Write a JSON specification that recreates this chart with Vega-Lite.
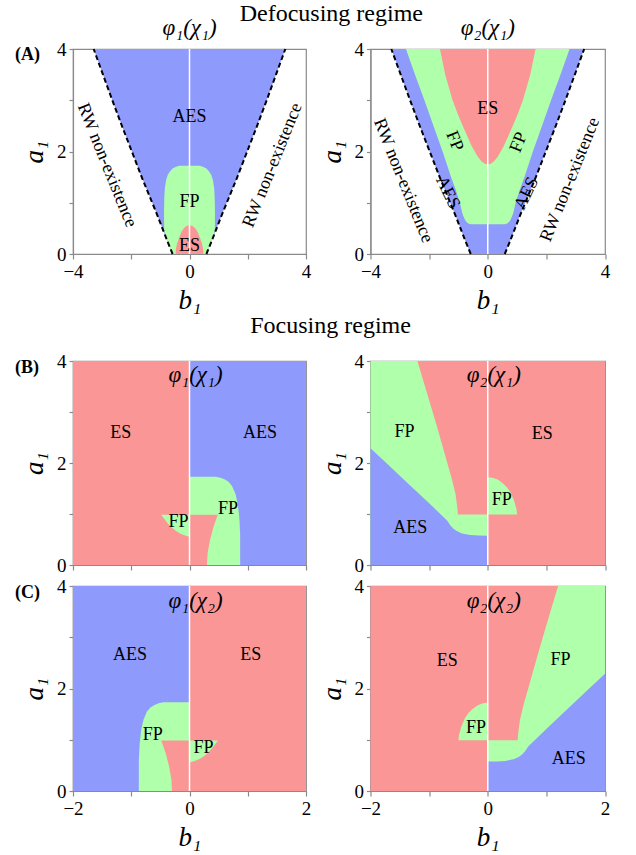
{
"$schema": "https://vega.github.io/schema/vega-lite/v6.json",
"background": "white",
"padding": {"left": 14, "top": 1, "right": 4, "bottom": 4},
"config": {
 "font": "Liberation Serif",
 "view": {"stroke": "#8a8a8a", "strokeWidth": 1.2},
 "axis": {"grid": false, "domainColor": "#8a8a8a", "domainWidth": 1.2, "tickColor": "#8a8a8a", "tickWidth": 1.2, "labelFont": "Liberation Serif", "labelFontSize": 19, "labelColor": "#000", "labelFlush": false, "labelOverlap": false, "titleFont": "Liberation Serif", "titleFontSize": 27, "titleFontStyle": "italic", "titleFontWeight": "normal", "titleColor": "#000"},
 "axisX": {"tickSize": 5, "labelPadding": 3, "titlePadding": 6},
 "axisY": {"tickSize": 4, "labelPadding": 3, "titlePadding": 8},
 "title": {"font": "Liberation Serif", "fontWeight": "normal", "color": "#000"},
 "text": {"font": "Liberation Serif", "fontSize": 18, "color": "#000"}
},
"datasets": {
 "regions": [
  {"p":"A1","s":"A1b","z":0,"r":"AES","a":0,"lo":-0.58,"hi":0.58},
  {"p":"A1","s":"A1b","z":0,"r":"AES","a":0.25,"lo":-0.76,"hi":0.76},
  {"p":"A1","s":"A1b","z":0,"r":"AES","a":0.5,"lo":-0.93,"hi":0.93},
  {"p":"A1","s":"A1b","z":0,"r":"AES","a":0.75,"lo":-1.1,"hi":1.1},
  {"p":"A1","s":"A1b","z":0,"r":"AES","a":1,"lo":-1.28,"hi":1.28},
  {"p":"A1","s":"A1b","z":0,"r":"AES","a":1.5,"lo":-1.64,"hi":1.64},
  {"p":"A1","s":"A1b","z":0,"r":"AES","a":2,"lo":-1.98,"hi":1.98},
  {"p":"A1","s":"A1b","z":0,"r":"AES","a":2.5,"lo":-2.32,"hi":2.32},
  {"p":"A1","s":"A1b","z":0,"r":"AES","a":3,"lo":-2.65,"hi":2.65},
  {"p":"A1","s":"A1b","z":0,"r":"AES","a":3.5,"lo":-2.97,"hi":2.97},
  {"p":"A1","s":"A1b","z":0,"r":"AES","a":4,"lo":-3.29,"hi":3.29},
  {"p":"A1","s":"A1g","z":1,"r":"FP","a":0,"lo":-0.58,"hi":0.58},
  {"p":"A1","s":"A1g","z":1,"r":"FP","a":0.25,"lo":-0.76,"hi":0.76},
  {"p":"A1","s":"A1g","z":1,"r":"FP","a":0.45,"lo":-0.87,"hi":0.87},
  {"p":"A1","s":"A1g","z":1,"r":"FP","a":0.8,"lo":-0.875,"hi":0.875},
  {"p":"A1","s":"A1g","z":1,"r":"FP","a":1.1,"lo":-0.865,"hi":0.865},
  {"p":"A1","s":"A1g","z":1,"r":"FP","a":1.3,"lo":-0.845,"hi":0.845},
  {"p":"A1","s":"A1g","z":1,"r":"FP","a":1.45,"lo":-0.8,"hi":0.8},
  {"p":"A1","s":"A1g","z":1,"r":"FP","a":1.55,"lo":-0.74,"hi":0.74},
  {"p":"A1","s":"A1g","z":1,"r":"FP","a":1.62,"lo":-0.66,"hi":0.66},
  {"p":"A1","s":"A1g","z":1,"r":"FP","a":1.67,"lo":-0.58,"hi":0.58},
  {"p":"A1","s":"A1g","z":1,"r":"FP","a":1.7,"lo":-0.48,"hi":0.48},
  {"p":"A1","s":"A1g","z":1,"r":"FP","a":1.72,"lo":-0.36,"hi":0.36},
  {"p":"A1","s":"A1r","z":2,"r":"ES","a":0,"lo":-0.48,"hi":0.48},
  {"p":"A1","s":"A1r","z":2,"r":"ES","a":0.1,"lo":-0.465,"hi":0.465},
  {"p":"A1","s":"A1r","z":2,"r":"ES","a":0.2,"lo":-0.43,"hi":0.43},
  {"p":"A1","s":"A1r","z":2,"r":"ES","a":0.3,"lo":-0.37,"hi":0.37},
  {"p":"A1","s":"A1r","z":2,"r":"ES","a":0.4,"lo":-0.3,"hi":0.3},
  {"p":"A1","s":"A1r","z":2,"r":"ES","a":0.46,"lo":-0.25,"hi":0.25},
  {"p":"A1","s":"A1r","z":2,"r":"ES","a":0.5,"lo":-0.2,"hi":0.2},
  {"p":"A1","s":"A1r","z":2,"r":"ES","a":0.53,"lo":-0.14,"hi":0.14},
  {"p":"A1","s":"A1r","z":2,"r":"ES","a":0.55,"lo":-0.08,"hi":0.08},
  {"p":"A1","s":"A1r","z":2,"r":"ES","a":0.56,"lo":-0.02,"hi":0.02},
  {"p":"A2","s":"A2b","z":0,"r":"AES","a":0,"lo":-0.58,"hi":0.58},
  {"p":"A2","s":"A2b","z":0,"r":"AES","a":0.25,"lo":-0.76,"hi":0.76},
  {"p":"A2","s":"A2b","z":0,"r":"AES","a":0.5,"lo":-0.93,"hi":0.93},
  {"p":"A2","s":"A2b","z":0,"r":"AES","a":0.75,"lo":-1.1,"hi":1.1},
  {"p":"A2","s":"A2b","z":0,"r":"AES","a":1,"lo":-1.28,"hi":1.28},
  {"p":"A2","s":"A2b","z":0,"r":"AES","a":1.5,"lo":-1.64,"hi":1.64},
  {"p":"A2","s":"A2b","z":0,"r":"AES","a":2,"lo":-1.98,"hi":1.98},
  {"p":"A2","s":"A2b","z":0,"r":"AES","a":2.5,"lo":-2.32,"hi":2.32},
  {"p":"A2","s":"A2b","z":0,"r":"AES","a":3,"lo":-2.65,"hi":2.65},
  {"p":"A2","s":"A2b","z":0,"r":"AES","a":3.5,"lo":-2.97,"hi":2.97},
  {"p":"A2","s":"A2b","z":0,"r":"AES","a":4,"lo":-3.29,"hi":3.29},
  {"p":"A2","s":"A2g","z":1,"r":"FP","a":0.58,"lo":-0.58,"hi":0.58},
  {"p":"A2","s":"A2g","z":1,"r":"FP","a":0.6,"lo":-0.68,"hi":0.68},
  {"p":"A2","s":"A2g","z":1,"r":"FP","a":0.65,"lo":-0.76,"hi":0.76},
  {"p":"A2","s":"A2g","z":1,"r":"FP","a":0.72,"lo":-0.82,"hi":0.82},
  {"p":"A2","s":"A2g","z":1,"r":"FP","a":0.8,"lo":-0.87,"hi":0.87},
  {"p":"A2","s":"A2g","z":1,"r":"FP","a":0.9,"lo":-0.91,"hi":0.91},
  {"p":"A2","s":"A2g","z":1,"r":"FP","a":1,"lo":-0.95,"hi":0.95},
  {"p":"A2","s":"A2g","z":1,"r":"FP","a":1.25,"lo":-1.09,"hi":1.09},
  {"p":"A2","s":"A2g","z":1,"r":"FP","a":1.5,"lo":-1.25,"hi":1.25},
  {"p":"A2","s":"A2g","z":1,"r":"FP","a":2,"lo":-1.54,"hi":1.54},
  {"p":"A2","s":"A2g","z":1,"r":"FP","a":2.5,"lo":-1.85,"hi":1.85},
  {"p":"A2","s":"A2g","z":1,"r":"FP","a":3,"lo":-2.16,"hi":2.16},
  {"p":"A2","s":"A2g","z":1,"r":"FP","a":3.5,"lo":-2.48,"hi":2.48},
  {"p":"A2","s":"A2g","z":1,"r":"FP","a":4,"lo":-2.79,"hi":2.79},
  {"p":"A2","s":"A2r","z":2,"r":"ES","a":1.745,"lo":-0.02,"hi":0.02},
  {"p":"A2","s":"A2r","z":2,"r":"ES","a":1.76,"lo":-0.1,"hi":0.1},
  {"p":"A2","s":"A2r","z":2,"r":"ES","a":1.8,"lo":-0.2,"hi":0.2},
  {"p":"A2","s":"A2r","z":2,"r":"ES","a":1.9,"lo":-0.34,"hi":0.34},
  {"p":"A2","s":"A2r","z":2,"r":"ES","a":2.1,"lo":-0.54,"hi":0.54},
  {"p":"A2","s":"A2r","z":2,"r":"ES","a":2.43,"lo":-0.8,"hi":0.8},
  {"p":"A2","s":"A2r","z":2,"r":"ES","a":2.7,"lo":-1.0,"hi":1.0},
  {"p":"A2","s":"A2r","z":2,"r":"ES","a":3,"lo":-1.2,"hi":1.2},
  {"p":"A2","s":"A2r","z":2,"r":"ES","a":3.5,"lo":-1.45,"hi":1.45},
  {"p":"A2","s":"A2r","z":2,"r":"ES","a":4,"lo":-1.63,"hi":1.63},

  {"p":"B1","s":"B1r0","z":0,"r":"ES","a":0,"lo":-2,"hi":0},
  {"p":"B1","s":"B1r0","z":0,"r":"ES","a":4,"lo":-2,"hi":0},
  {"p":"B1","s":"B1b0","z":0,"r":"AES","a":0,"lo":0,"hi":2},
  {"p":"B1","s":"B1b0","z":0,"r":"AES","a":4,"lo":0,"hi":2},
  {"p":"B1","s":"B1g1","z":1,"r":"FP","a":0,"lo":0,"hi":0.87},
  {"p":"B1","s":"B1g1","z":1,"r":"FP","a":0.6,"lo":0,"hi":0.87},
  {"p":"B1","s":"B1g1","z":1,"r":"FP","a":0.93,"lo":0,"hi":0.855},
  {"p":"B1","s":"B1g1","z":1,"r":"FP","a":1.19,"lo":0,"hi":0.83},
  {"p":"B1","s":"B1g1","z":1,"r":"FP","a":1.39,"lo":0,"hi":0.79},
  {"p":"B1","s":"B1g1","z":1,"r":"FP","a":1.55,"lo":0,"hi":0.73},
  {"p":"B1","s":"B1g1","z":1,"r":"FP","a":1.63,"lo":0,"hi":0.67},
  {"p":"B1","s":"B1g1","z":1,"r":"FP","a":1.68,"lo":0,"hi":0.6},
  {"p":"B1","s":"B1g1","z":1,"r":"FP","a":1.71,"lo":0,"hi":0.53},
  {"p":"B1","s":"B1g1","z":1,"r":"FP","a":1.73,"lo":0,"hi":0.45},
  {"p":"B1","s":"B1g2","z":1,"r":"FP","a":0.56,"lo":-0.01,"hi":0},
  {"p":"B1","s":"B1g2","z":1,"r":"FP","a":0.57,"lo":-0.05,"hi":0},
  {"p":"B1","s":"B1g2","z":1,"r":"FP","a":0.59,"lo":-0.1,"hi":0},
  {"p":"B1","s":"B1g2","z":1,"r":"FP","a":0.62,"lo":-0.16,"hi":0},
  {"p":"B1","s":"B1g2","z":1,"r":"FP","a":0.65,"lo":-0.21,"hi":0},
  {"p":"B1","s":"B1g2","z":1,"r":"FP","a":0.7,"lo":-0.27,"hi":0},
  {"p":"B1","s":"B1g2","z":1,"r":"FP","a":0.76,"lo":-0.33,"hi":0},
  {"p":"B1","s":"B1g2","z":1,"r":"FP","a":0.84,"lo":-0.39,"hi":0},
  {"p":"B1","s":"B1g2","z":1,"r":"FP","a":0.9,"lo":-0.43,"hi":0},
  {"p":"B1","s":"B1g2","z":1,"r":"FP","a":0.985,"lo":-0.49,"hi":0},
  {"p":"B1","s":"B1r2","z":2,"r":"ES","a":0,"lo":0,"hi":0.3},
  {"p":"B1","s":"B1r2","z":2,"r":"ES","a":0.22,"lo":0,"hi":0.31},
  {"p":"B1","s":"B1r2","z":2,"r":"ES","a":0.48,"lo":0,"hi":0.35},
  {"p":"B1","s":"B1r2","z":2,"r":"ES","a":0.74,"lo":0,"hi":0.41},
  {"p":"B1","s":"B1r2","z":2,"r":"ES","a":0.985,"lo":0,"hi":0.485},

  {"p":"C1","s":"C1b0","z":0,"r":"AES","a":0,"lo":-2,"hi":0},
  {"p":"C1","s":"C1b0","z":0,"r":"AES","a":4,"lo":-2,"hi":0},
  {"p":"C1","s":"C1r0","z":0,"r":"ES","a":0,"lo":0,"hi":2},
  {"p":"C1","s":"C1r0","z":0,"r":"ES","a":4,"lo":0,"hi":2},
  {"p":"C1","s":"C1g1","z":1,"r":"FP","a":0,"lo":-0.87,"hi":0},
  {"p":"C1","s":"C1g1","z":1,"r":"FP","a":0.6,"lo":-0.87,"hi":0},
  {"p":"C1","s":"C1g1","z":1,"r":"FP","a":0.93,"lo":-0.855,"hi":0},
  {"p":"C1","s":"C1g1","z":1,"r":"FP","a":1.19,"lo":-0.83,"hi":0},
  {"p":"C1","s":"C1g1","z":1,"r":"FP","a":1.39,"lo":-0.79,"hi":0},
  {"p":"C1","s":"C1g1","z":1,"r":"FP","a":1.55,"lo":-0.73,"hi":0},
  {"p":"C1","s":"C1g1","z":1,"r":"FP","a":1.63,"lo":-0.67,"hi":0},
  {"p":"C1","s":"C1g1","z":1,"r":"FP","a":1.68,"lo":-0.6,"hi":0},
  {"p":"C1","s":"C1g1","z":1,"r":"FP","a":1.71,"lo":-0.53,"hi":0},
  {"p":"C1","s":"C1g1","z":1,"r":"FP","a":1.73,"lo":-0.45,"hi":0},
  {"p":"C1","s":"C1g2","z":1,"r":"FP","a":0.56,"lo":0,"hi":0.01},
  {"p":"C1","s":"C1g2","z":1,"r":"FP","a":0.57,"lo":0,"hi":0.05},
  {"p":"C1","s":"C1g2","z":1,"r":"FP","a":0.59,"lo":0,"hi":0.1},
  {"p":"C1","s":"C1g2","z":1,"r":"FP","a":0.62,"lo":0,"hi":0.16},
  {"p":"C1","s":"C1g2","z":1,"r":"FP","a":0.65,"lo":0,"hi":0.21},
  {"p":"C1","s":"C1g2","z":1,"r":"FP","a":0.7,"lo":0,"hi":0.27},
  {"p":"C1","s":"C1g2","z":1,"r":"FP","a":0.76,"lo":0,"hi":0.33},
  {"p":"C1","s":"C1g2","z":1,"r":"FP","a":0.84,"lo":0,"hi":0.39},
  {"p":"C1","s":"C1g2","z":1,"r":"FP","a":0.9,"lo":0,"hi":0.43},
  {"p":"C1","s":"C1g2","z":1,"r":"FP","a":0.985,"lo":0,"hi":0.49},
  {"p":"C1","s":"C1r2","z":2,"r":"ES","a":0,"lo":-0.3,"hi":0},
  {"p":"C1","s":"C1r2","z":2,"r":"ES","a":0.22,"lo":-0.31,"hi":0},
  {"p":"C1","s":"C1r2","z":2,"r":"ES","a":0.48,"lo":-0.35,"hi":0},
  {"p":"C1","s":"C1r2","z":2,"r":"ES","a":0.74,"lo":-0.41,"hi":0},
  {"p":"C1","s":"C1r2","z":2,"r":"ES","a":0.985,"lo":-0.485,"hi":0},

  {"p":"B2","s":"B2r0","z":0,"r":"ES","a":0,"lo":0,"hi":2},
  {"p":"B2","s":"B2r0","z":0,"r":"ES","a":4,"lo":0,"hi":2},
  {"p":"B2","s":"B2g0","z":0,"r":"FP","a":0,"lo":-2,"hi":0},
  {"p":"B2","s":"B2g0","z":0,"r":"FP","a":4,"lo":-2,"hi":0},
  {"p":"B2","s":"B2b1","z":1,"r":"AES","a":0,"lo":-2,"hi":0},
  {"p":"B2","s":"B2b1","z":1,"r":"AES","a":0.574,"lo":-2,"hi":0},
  {"p":"B2","s":"B2b1","z":1,"r":"AES","a":0.577,"lo":-2,"hi":-0.15},
  {"p":"B2","s":"B2b1","z":1,"r":"AES","a":0.587,"lo":-2,"hi":-0.3},
  {"p":"B2","s":"B2b1","z":1,"r":"AES","a":0.62,"lo":-2,"hi":-0.44},
  {"p":"B2","s":"B2b1","z":1,"r":"AES","a":0.66,"lo":-2,"hi":-0.52},
  {"p":"B2","s":"B2b1","z":1,"r":"AES","a":0.705,"lo":-2,"hi":-0.58},
  {"p":"B2","s":"B2b1","z":1,"r":"AES","a":0.78,"lo":-2,"hi":-0.64},
  {"p":"B2","s":"B2b1","z":1,"r":"AES","a":0.87,"lo":-2,"hi":-0.69},
  {"p":"B2","s":"B2b1","z":1,"r":"AES","a":1.0,"lo":-2,"hi":-0.81},
  {"p":"B2","s":"B2b1","z":1,"r":"AES","a":1.2,"lo":-2,"hi":-0.99},
  {"p":"B2","s":"B2b1","z":1,"r":"AES","a":1.6,"lo":-2,"hi":-1.36},
  {"p":"B2","s":"B2b1","z":1,"r":"AES","a":2.0,"lo":-2,"hi":-1.73},
  {"p":"B2","s":"B2b1","z":1,"r":"AES","a":2.29,"lo":-2,"hi":-2},
  {"p":"B2","s":"B2r1","z":1,"r":"ES","a":0.99,"lo":-0.51,"hi":0},
  {"p":"B2","s":"B2r1","z":1,"r":"ES","a":1.13,"lo":-0.52,"hi":0},
  {"p":"B2","s":"B2r1","z":1,"r":"ES","a":1.39,"lo":-0.55,"hi":0},
  {"p":"B2","s":"B2r1","z":1,"r":"ES","a":1.72,"lo":-0.62,"hi":0},
  {"p":"B2","s":"B2r1","z":1,"r":"ES","a":2.04,"lo":-0.7,"hi":0},
  {"p":"B2","s":"B2r1","z":1,"r":"ES","a":2.69,"lo":-0.86,"hi":0},
  {"p":"B2","s":"B2r1","z":1,"r":"ES","a":3.35,"lo":-1.03,"hi":0},
  {"p":"B2","s":"B2r1","z":1,"r":"ES","a":4,"lo":-1.2,"hi":0},
  {"p":"B2","s":"B2g1","z":1,"r":"FP","a":0.99,"lo":0,"hi":0.5},
  {"p":"B2","s":"B2g1","z":1,"r":"FP","a":1.1,"lo":0,"hi":0.49},
  {"p":"B2","s":"B2g1","z":1,"r":"FP","a":1.26,"lo":0,"hi":0.45},
  {"p":"B2","s":"B2g1","z":1,"r":"FP","a":1.42,"lo":0,"hi":0.39},
  {"p":"B2","s":"B2g1","z":1,"r":"FP","a":1.52,"lo":0,"hi":0.33},
  {"p":"B2","s":"B2g1","z":1,"r":"FP","a":1.59,"lo":0,"hi":0.27},
  {"p":"B2","s":"B2g1","z":1,"r":"FP","a":1.65,"lo":0,"hi":0.2},
  {"p":"B2","s":"B2g1","z":1,"r":"FP","a":1.68,"lo":0,"hi":0.16},
  {"p":"B2","s":"B2g1","z":1,"r":"FP","a":1.71,"lo":0,"hi":0.08},
  {"p":"B2","s":"B2g1","z":1,"r":"FP","a":1.72,"lo":0,"hi":0.01},

  {"p":"C2","s":"C2r0","z":0,"r":"ES","a":0,"lo":-2,"hi":0},
  {"p":"C2","s":"C2r0","z":0,"r":"ES","a":4,"lo":-2,"hi":0},
  {"p":"C2","s":"C2g0","z":0,"r":"FP","a":0,"lo":0,"hi":2},
  {"p":"C2","s":"C2g0","z":0,"r":"FP","a":4,"lo":0,"hi":2},
  {"p":"C2","s":"C2b1","z":1,"r":"AES","a":0,"lo":0,"hi":2},
  {"p":"C2","s":"C2b1","z":1,"r":"AES","a":0.574,"lo":0,"hi":2},
  {"p":"C2","s":"C2b1","z":1,"r":"AES","a":0.577,"lo":0.15,"hi":2},
  {"p":"C2","s":"C2b1","z":1,"r":"AES","a":0.587,"lo":0.3,"hi":2},
  {"p":"C2","s":"C2b1","z":1,"r":"AES","a":0.62,"lo":0.44,"hi":2},
  {"p":"C2","s":"C2b1","z":1,"r":"AES","a":0.66,"lo":0.52,"hi":2},
  {"p":"C2","s":"C2b1","z":1,"r":"AES","a":0.705,"lo":0.58,"hi":2},
  {"p":"C2","s":"C2b1","z":1,"r":"AES","a":0.78,"lo":0.64,"hi":2},
  {"p":"C2","s":"C2b1","z":1,"r":"AES","a":0.87,"lo":0.69,"hi":2},
  {"p":"C2","s":"C2b1","z":1,"r":"AES","a":1.0,"lo":0.81,"hi":2},
  {"p":"C2","s":"C2b1","z":1,"r":"AES","a":1.2,"lo":0.99,"hi":2},
  {"p":"C2","s":"C2b1","z":1,"r":"AES","a":1.6,"lo":1.36,"hi":2},
  {"p":"C2","s":"C2b1","z":1,"r":"AES","a":2.0,"lo":1.73,"hi":2},
  {"p":"C2","s":"C2b1","z":1,"r":"AES","a":2.29,"lo":2,"hi":2},
  {"p":"C2","s":"C2r1","z":1,"r":"ES","a":0.99,"lo":0,"hi":0.51},
  {"p":"C2","s":"C2r1","z":1,"r":"ES","a":1.13,"lo":0,"hi":0.52},
  {"p":"C2","s":"C2r1","z":1,"r":"ES","a":1.39,"lo":0,"hi":0.55},
  {"p":"C2","s":"C2r1","z":1,"r":"ES","a":1.72,"lo":0,"hi":0.62},
  {"p":"C2","s":"C2r1","z":1,"r":"ES","a":2.04,"lo":0,"hi":0.7},
  {"p":"C2","s":"C2r1","z":1,"r":"ES","a":2.69,"lo":0,"hi":0.86},
  {"p":"C2","s":"C2r1","z":1,"r":"ES","a":3.35,"lo":0,"hi":1.03},
  {"p":"C2","s":"C2r1","z":1,"r":"ES","a":4,"lo":0,"hi":1.2},
  {"p":"C2","s":"C2g1","z":1,"r":"FP","a":0.99,"lo":-0.5,"hi":0},
  {"p":"C2","s":"C2g1","z":1,"r":"FP","a":1.1,"lo":-0.49,"hi":0},
  {"p":"C2","s":"C2g1","z":1,"r":"FP","a":1.26,"lo":-0.45,"hi":0},
  {"p":"C2","s":"C2g1","z":1,"r":"FP","a":1.42,"lo":-0.39,"hi":0},
  {"p":"C2","s":"C2g1","z":1,"r":"FP","a":1.52,"lo":-0.33,"hi":0},
  {"p":"C2","s":"C2g1","z":1,"r":"FP","a":1.59,"lo":-0.27,"hi":0},
  {"p":"C2","s":"C2g1","z":1,"r":"FP","a":1.65,"lo":-0.2,"hi":0},
  {"p":"C2","s":"C2g1","z":1,"r":"FP","a":1.68,"lo":-0.16,"hi":0},
  {"p":"C2","s":"C2g1","z":1,"r":"FP","a":1.71,"lo":-0.08,"hi":0},
  {"p":"C2","s":"C2g1","z":1,"r":"FP","a":1.72,"lo":-0.01,"hi":0}
 ],
 "lines": [
  {"s":"L","a":0,"lo":-0.58},{"s":"L","a":0.25,"lo":-0.76},{"s":"L","a":0.5,"lo":-0.93},{"s":"L","a":0.75,"lo":-1.1},{"s":"L","a":1,"lo":-1.28},{"s":"L","a":1.5,"lo":-1.64},{"s":"L","a":2,"lo":-1.98},{"s":"L","a":2.5,"lo":-2.32},{"s":"L","a":3,"lo":-2.65},{"s":"L","a":3.5,"lo":-2.97},{"s":"L","a":4,"lo":-3.29},
  {"s":"R","a":0,"lo":0.58},{"s":"R","a":0.25,"lo":0.76},{"s":"R","a":0.5,"lo":0.93},{"s":"R","a":0.75,"lo":1.1},{"s":"R","a":1,"lo":1.28},{"s":"R","a":1.5,"lo":1.64},{"s":"R","a":2,"lo":1.98},{"s":"R","a":2.5,"lo":2.32},{"s":"R","a":3,"lo":2.65},{"s":"R","a":3.5,"lo":2.97},{"s":"R","a":4,"lo":3.29}
 ]
},
"spacing": 0,
"resolve": {"scale": {"x": "independent", "y": "independent"}},
"vconcat": [
 {
  "title": {"text": "Defocusing regime", "fontSize": 24, "anchor": "middle", "offset": -9.3, "dx": 19},
  "bounds": "flush",
  "spacing": 64.5,
  "resolve": {"scale": {"x": "independent", "y": "independent"}},
  "hconcat": [
   {
    "width": 233, "height": 205,
    "title": {"text": "φ₁(χ₁)", "fontSize": 23, "fontStyle": "italic", "offset": 0},
    "encoding": {
     "x": {"field": "lo", "type": "quantitative", "scale": {"domain": [-4, 4], "nice": false, "zero": false}, "axis": {"values": [-4, -2, 0, 2, 4], "labelExpr": "datum.value % 4 == 0 ? datum.label : ''", "title": "b₁"}},
     "y": {"field": "a", "type": "quantitative", "scale": {"domain": [0, 4], "nice": false}, "axis": {"values": [0, 1, 2, 3, 4], "labelExpr": "datum.value % 2 == 0 ? datum.label : ''", "title": "a₁"}}
    },
    "layer": [
     {"data": {"name": "regions"}, "transform": [{"filter": "datum.p == 'A1' && datum.z == 0"}], "mark": {"type": "area", "orient": "horizontal", "opacity": 1}, "encoding": {"x2": {"field": "hi"}, "color": {"field": "r", "type": "nominal", "scale": {"domain": ["AES", "FP", "ES"], "range": ["#8E9BFD", "#B0FFAA", "#FA9696"]}, "legend": null}, "detail": {"field": "s", "type": "nominal"}}},
     {"data": {"name": "regions"}, "transform": [{"filter": "datum.p == 'A1' && datum.z == 1"}], "mark": {"type": "area", "orient": "horizontal", "opacity": 1}, "encoding": {"x2": {"field": "hi"}, "color": {"field": "r", "type": "nominal", "scale": {"domain": ["AES", "FP", "ES"], "range": ["#8E9BFD", "#B0FFAA", "#FA9696"]}, "legend": null}, "detail": {"field": "s", "type": "nominal"}}},
     {"data": {"name": "regions"}, "transform": [{"filter": "datum.p == 'A1' && datum.z == 2"}], "mark": {"type": "area", "orient": "horizontal", "opacity": 1}, "encoding": {"x2": {"field": "hi"}, "color": {"field": "r", "type": "nominal", "scale": {"domain": ["AES", "FP", "ES"], "range": ["#8E9BFD", "#B0FFAA", "#FA9696"]}, "legend": null}, "detail": {"field": "s", "type": "nominal"}}},
     {"data": {"values": [{"lo": 0, "a": 0, "a2": 4}]}, "mark": {"type": "rule", "color": "white", "strokeWidth": 1.5}, "encoding": {"y2": {"field": "a2"}}},
     {"data": {"name": "lines"}, "mark": {"type": "line", "color": "black", "strokeWidth": 2, "strokeDash": [5, 3]}, "encoding": {"detail": {"field": "s", "type": "nominal"}, "order": {"field": "a", "type": "quantitative"}}},
     {"data": {"values": [{"lo": 0, "a": 2.67, "t": "AES"}, {"lo": 0, "a": 1.01, "t": "FP"}, {"lo": 0, "a": 0.16, "t": "ES"}]}, "mark": {"type": "text", "baseline": "middle"}, "encoding": {"text": {"field": "t"}}},
     {"data": {"values": [{"lo": -2.84, "a": 1.73, "t": "RW non-existence"}]}, "mark": {"type": "text", "baseline": "middle", "angle": 68}, "encoding": {"text": {"field": "t"}}},
     {"data": {"values": [{"lo": 2.85, "a": 1.73, "t": "RW non-existence"}]}, "mark": {"type": "text", "baseline": "middle", "angle": 292}, "encoding": {"text": {"field": "t"}}},
     {"data": {"values": [{"lo": -4, "a": 4, "t": "(A)"}]}, "mark": {"type": "text", "align": "left", "baseline": "middle", "dx": -58, "dy": 6, "fontWeight": "bold"}, "encoding": {"text": {"field": "t"}}}
    ]
   },
   {
    "width": 234.5, "height": 205,
    "title": {"text": "φ₂(χ₁)", "fontSize": 23, "fontStyle": "italic", "offset": 0},
    "encoding": {
     "x": {"field": "lo", "type": "quantitative", "scale": {"domain": [-4, 4], "nice": false, "zero": false}, "axis": {"values": [-4, -2, 0, 2, 4], "labelExpr": "datum.value % 4 == 0 ? datum.label : ''", "title": "b₁"}},
     "y": {"field": "a", "type": "quantitative", "scale": {"domain": [0, 4], "nice": false}, "axis": {"values": [0, 1, 2, 3, 4], "labelExpr": "datum.value % 2 == 0 ? datum.label : ''", "title": "a₁"}}
    },
    "layer": [
     {"data": {"name": "regions"}, "transform": [{"filter": "datum.p == 'A2' && datum.z == 0"}], "mark": {"type": "area", "orient": "horizontal", "opacity": 1}, "encoding": {"x2": {"field": "hi"}, "color": {"field": "r", "type": "nominal", "scale": {"domain": ["AES", "FP", "ES"], "range": ["#8E9BFD", "#B0FFAA", "#FA9696"]}, "legend": null}, "detail": {"field": "s", "type": "nominal"}}},
     {"data": {"name": "regions"}, "transform": [{"filter": "datum.p == 'A2' && datum.z == 1"}], "mark": {"type": "area", "orient": "horizontal", "opacity": 1}, "encoding": {"x2": {"field": "hi"}, "color": {"field": "r", "type": "nominal", "scale": {"domain": ["AES", "FP", "ES"], "range": ["#8E9BFD", "#B0FFAA", "#FA9696"]}, "legend": null}, "detail": {"field": "s", "type": "nominal"}}},
     {"data": {"name": "regions"}, "transform": [{"filter": "datum.p == 'A2' && datum.z == 2"}], "mark": {"type": "area", "orient": "horizontal", "opacity": 1}, "encoding": {"x2": {"field": "hi"}, "color": {"field": "r", "type": "nominal", "scale": {"domain": ["AES", "FP", "ES"], "range": ["#8E9BFD", "#B0FFAA", "#FA9696"]}, "legend": null}, "detail": {"field": "s", "type": "nominal"}}},
     {"data": {"values": [{"lo": 0, "a": 0, "a2": 4}]}, "mark": {"type": "rule", "color": "white", "strokeWidth": 1.5}, "encoding": {"y2": {"field": "a2"}}},
     {"data": {"name": "lines"}, "mark": {"type": "line", "color": "black", "strokeWidth": 2, "strokeDash": [5, 3]}, "encoding": {"detail": {"field": "s", "type": "nominal"}, "order": {"field": "a", "type": "quantitative"}}},
     {"data": {"values": [{"lo": 0, "a": 2.82, "t": "ES"}]}, "mark": {"type": "text", "baseline": "middle"}, "encoding": {"text": {"field": "t"}}},
     {"data": {"values": [{"lo": -2.89, "a": 1.43, "t": "RW non-existence"}, {"lo": -1.14, "a": 2.2, "t": "FP"}]}, "mark": {"type": "text", "baseline": "middle", "angle": 68}, "encoding": {"text": {"field": "t"}}},
     {"data": {"values": [{"lo": 2.81, "a": 1.45, "t": "RW non-existence"}, {"lo": 1.06, "a": 2.18, "t": "FP"}]}, "mark": {"type": "text", "baseline": "middle", "angle": 292}, "encoding": {"text": {"field": "t"}}},
     {"data": {"values": [{"lo": -1.37, "a": 1.2, "t": "AES"}]}, "mark": {"type": "text", "baseline": "middle", "angle": 64}, "encoding": {"text": {"field": "t"}}},
     {"data": {"values": [{"lo": 1.33, "a": 1.18, "t": "AES"}]}, "mark": {"type": "text", "baseline": "middle", "angle": 296}, "encoding": {"text": {"field": "t"}}}
    ]
   }
  ]
 },
 {
  "title": {"text": "Focusing regime", "fontSize": 24, "anchor": "middle", "offset": 13.3, "dx": 20},
  "bounds": "flush",
  "spacing": 64.5,
  "resolve": {"scale": {"x": "independent", "y": "independent"}},
  "hconcat": [
   {
    "width": 233, "height": 204,
    "encoding": {
     "x": {"field": "lo", "type": "quantitative", "scale": {"domain": [-2, 2], "nice": false, "zero": false}, "axis": {"values": [-2, -1, 0, 1, 2], "labels": false, "title": null}},
     "y": {"field": "a", "type": "quantitative", "scale": {"domain": [0, 4], "nice": false}, "axis": {"values": [0, 1, 2, 3, 4], "labelExpr": "datum.value % 2 == 0 ? datum.label : ''", "title": "a₁"}}
    },
    "layer": [
     {"data": {"name": "regions"}, "transform": [{"filter": "datum.p == 'B1' && datum.z == 0"}], "mark": {"type": "area", "orient": "horizontal", "opacity": 1}, "encoding": {"x2": {"field": "hi"}, "color": {"field": "r", "type": "nominal", "scale": {"domain": ["AES", "FP", "ES"], "range": ["#8E9BFD", "#B0FFAA", "#FA9696"]}, "legend": null}, "detail": {"field": "s", "type": "nominal"}}},
     {"data": {"name": "regions"}, "transform": [{"filter": "datum.p == 'B1' && datum.z == 1"}], "mark": {"type": "area", "orient": "horizontal", "opacity": 1}, "encoding": {"x2": {"field": "hi"}, "color": {"field": "r", "type": "nominal", "scale": {"domain": ["AES", "FP", "ES"], "range": ["#8E9BFD", "#B0FFAA", "#FA9696"]}, "legend": null}, "detail": {"field": "s", "type": "nominal"}}},
     {"data": {"name": "regions"}, "transform": [{"filter": "datum.p == 'B1' && datum.z == 2"}], "mark": {"type": "area", "orient": "horizontal", "opacity": 1}, "encoding": {"x2": {"field": "hi"}, "color": {"field": "r", "type": "nominal", "scale": {"domain": ["AES", "FP", "ES"], "range": ["#8E9BFD", "#B0FFAA", "#FA9696"]}, "legend": null}, "detail": {"field": "s", "type": "nominal"}}},
     {"data": {"values": [{"lo": 0, "a": 0, "a2": 4}]}, "mark": {"type": "rule", "color": "white", "strokeWidth": 1.5}, "encoding": {"y2": {"field": "a2"}}},
     {"data": {"values": [{"lo": -1.18, "a": 2.58, "t": "ES"}, {"lo": 1.21, "a": 2.58, "t": "AES"}, {"lo": -0.19, "a": 0.84, "t": "FP"}, {"lo": 0.66, "a": 1.1, "t": "FP"}]}, "mark": {"type": "text", "baseline": "middle"}, "encoding": {"text": {"field": "t"}}},
     {"data": {"values": [{"lo": 0, "a": 4, "t": "φ₁(χ₁)"}]}, "mark": {"type": "text", "baseline": "middle", "fontSize": 23, "fontStyle": "italic", "dx": 6, "dy": 14}, "encoding": {"text": {"field": "t"}}},
     {"data": {"values": [{"lo": -2, "a": 4, "t": "(B)"}]}, "mark": {"type": "text", "align": "left", "baseline": "middle", "dx": -58, "dy": 7, "fontWeight": "bold"}, "encoding": {"text": {"field": "t"}}}
    ]
   },
   {
    "width": 234.5, "height": 204,
    "encoding": {
     "x": {"field": "lo", "type": "quantitative", "scale": {"domain": [-2, 2], "nice": false, "zero": false}, "axis": {"values": [-2, -1, 0, 1, 2], "labels": false, "title": null}},
     "y": {"field": "a", "type": "quantitative", "scale": {"domain": [0, 4], "nice": false}, "axis": {"values": [0, 1, 2, 3, 4], "labelExpr": "datum.value % 2 == 0 ? datum.label : ''", "title": "a₁"}}
    },
    "layer": [
     {"data": {"name": "regions"}, "transform": [{"filter": "datum.p == 'B2' && datum.z == 0"}], "mark": {"type": "area", "orient": "horizontal", "opacity": 1}, "encoding": {"x2": {"field": "hi"}, "color": {"field": "r", "type": "nominal", "scale": {"domain": ["AES", "FP", "ES"], "range": ["#8E9BFD", "#B0FFAA", "#FA9696"]}, "legend": null}, "detail": {"field": "s", "type": "nominal"}}},
     {"data": {"name": "regions"}, "transform": [{"filter": "datum.p == 'B2' && datum.z == 1"}], "mark": {"type": "area", "orient": "horizontal", "opacity": 1}, "encoding": {"x2": {"field": "hi"}, "color": {"field": "r", "type": "nominal", "scale": {"domain": ["AES", "FP", "ES"], "range": ["#8E9BFD", "#B0FFAA", "#FA9696"]}, "legend": null}, "detail": {"field": "s", "type": "nominal"}}},
     {"data": {"values": [{"lo": 0, "a": 0, "a2": 4}]}, "mark": {"type": "rule", "color": "white", "strokeWidth": 1.5}, "encoding": {"y2": {"field": "a2"}}},
     {"data": {"values": [{"lo": -1.42, "a": 2.6, "t": "FP"}, {"lo": 0.93, "a": 2.56, "t": "ES"}, {"lo": 0.24, "a": 1.27, "t": "FP"}, {"lo": -1.32, "a": 0.72, "t": "AES"}]}, "mark": {"type": "text", "baseline": "middle"}, "encoding": {"text": {"field": "t"}}},
     {"data": {"values": [{"lo": 0, "a": 4, "t": "φ₂(χ₁)"}]}, "mark": {"type": "text", "baseline": "middle", "fontSize": 23, "fontStyle": "italic", "dx": 6, "dy": 14}, "encoding": {"text": {"field": "t"}}}
    ]
   }
  ]
 },
 {
  "bounds": "flush",
  "spacing": 64.5,
  "resolve": {"scale": {"x": "independent", "y": "independent"}},
  "hconcat": [
   {
    "width": 233, "height": 205,
    "encoding": {
     "x": {"field": "lo", "type": "quantitative", "scale": {"domain": [-2, 2], "nice": false, "zero": false}, "axis": {"values": [-2, -1, 0, 1, 2], "labelExpr": "datum.value % 2 == 0 ? datum.label : ''", "title": "b₁"}},
     "y": {"field": "a", "type": "quantitative", "scale": {"domain": [0, 4], "nice": false}, "axis": {"values": [0, 1, 2, 3, 4], "labelExpr": "datum.value % 2 == 0 ? datum.label : ''", "title": "a₁"}}
    },
    "layer": [
     {"data": {"name": "regions"}, "transform": [{"filter": "datum.p == 'C1' && datum.z == 0"}], "mark": {"type": "area", "orient": "horizontal", "opacity": 1}, "encoding": {"x2": {"field": "hi"}, "color": {"field": "r", "type": "nominal", "scale": {"domain": ["AES", "FP", "ES"], "range": ["#8E9BFD", "#B0FFAA", "#FA9696"]}, "legend": null}, "detail": {"field": "s", "type": "nominal"}}},
     {"data": {"name": "regions"}, "transform": [{"filter": "datum.p == 'C1' && datum.z == 1"}], "mark": {"type": "area", "orient": "horizontal", "opacity": 1}, "encoding": {"x2": {"field": "hi"}, "color": {"field": "r", "type": "nominal", "scale": {"domain": ["AES", "FP", "ES"], "range": ["#8E9BFD", "#B0FFAA", "#FA9696"]}, "legend": null}, "detail": {"field": "s", "type": "nominal"}}},
     {"data": {"name": "regions"}, "transform": [{"filter": "datum.p == 'C1' && datum.z == 2"}], "mark": {"type": "area", "orient": "horizontal", "opacity": 1}, "encoding": {"x2": {"field": "hi"}, "color": {"field": "r", "type": "nominal", "scale": {"domain": ["AES", "FP", "ES"], "range": ["#8E9BFD", "#B0FFAA", "#FA9696"]}, "legend": null}, "detail": {"field": "s", "type": "nominal"}}},
     {"data": {"values": [{"lo": 0, "a": 0, "a2": 4}]}, "mark": {"type": "rule", "color": "white", "strokeWidth": 1.5}, "encoding": {"y2": {"field": "a2"}}},
     {"data": {"values": [{"lo": -1.02, "a": 2.66, "t": "AES"}, {"lo": 1.05, "a": 2.66, "t": "ES"}, {"lo": -0.63, "a": 1.09, "t": "FP"}, {"lo": 0.24, "a": 0.83, "t": "FP"}]}, "mark": {"type": "text", "baseline": "middle"}, "encoding": {"text": {"field": "t"}}},
     {"data": {"values": [{"lo": 0, "a": 4, "t": "φ₁(χ₂)"}]}, "mark": {"type": "text", "baseline": "middle", "fontSize": 23, "fontStyle": "italic", "dx": 6, "dy": 15}, "encoding": {"text": {"field": "t"}}},
     {"data": {"values": [{"lo": -2, "a": 4, "t": "(C)"}]}, "mark": {"type": "text", "align": "left", "baseline": "middle", "dx": -58, "dy": 7, "fontWeight": "bold"}, "encoding": {"text": {"field": "t"}}}
    ]
   },
   {
    "width": 234.5, "height": 205,
    "encoding": {
     "x": {"field": "lo", "type": "quantitative", "scale": {"domain": [-2, 2], "nice": false, "zero": false}, "axis": {"values": [-2, -1, 0, 1, 2], "labelExpr": "datum.value % 2 == 0 ? datum.label : ''", "title": "b₁"}},
     "y": {"field": "a", "type": "quantitative", "scale": {"domain": [0, 4], "nice": false}, "axis": {"values": [0, 1, 2, 3, 4], "labelExpr": "datum.value % 2 == 0 ? datum.label : ''", "title": "a₁"}}
    },
    "layer": [
     {"data": {"name": "regions"}, "transform": [{"filter": "datum.p == 'C2' && datum.z == 0"}], "mark": {"type": "area", "orient": "horizontal", "opacity": 1}, "encoding": {"x2": {"field": "hi"}, "color": {"field": "r", "type": "nominal", "scale": {"domain": ["AES", "FP", "ES"], "range": ["#8E9BFD", "#B0FFAA", "#FA9696"]}, "legend": null}, "detail": {"field": "s", "type": "nominal"}}},
     {"data": {"name": "regions"}, "transform": [{"filter": "datum.p == 'C2' && datum.z == 1"}], "mark": {"type": "area", "orient": "horizontal", "opacity": 1}, "encoding": {"x2": {"field": "hi"}, "color": {"field": "r", "type": "nominal", "scale": {"domain": ["AES", "FP", "ES"], "range": ["#8E9BFD", "#B0FFAA", "#FA9696"]}, "legend": null}, "detail": {"field": "s", "type": "nominal"}}},
     {"data": {"values": [{"lo": 0, "a": 0, "a2": 4}]}, "mark": {"type": "rule", "color": "white", "strokeWidth": 1.5}, "encoding": {"y2": {"field": "a2"}}},
     {"data": {"values": [{"lo": -0.69, "a": 2.53, "t": "ES"}, {"lo": 1.24, "a": 2.55, "t": "FP"}, {"lo": -0.2, "a": 1.22, "t": "FP"}, {"lo": 1.38, "a": 0.62, "t": "AES"}]}, "mark": {"type": "text", "baseline": "middle"}, "encoding": {"text": {"field": "t"}}},
     {"data": {"values": [{"lo": 0, "a": 4, "t": "φ₂(χ₂)"}]}, "mark": {"type": "text", "baseline": "middle", "fontSize": 23, "fontStyle": "italic", "dx": 6, "dy": 15}, "encoding": {"text": {"field": "t"}}}
    ]
   }
  ]
 }
]
}
